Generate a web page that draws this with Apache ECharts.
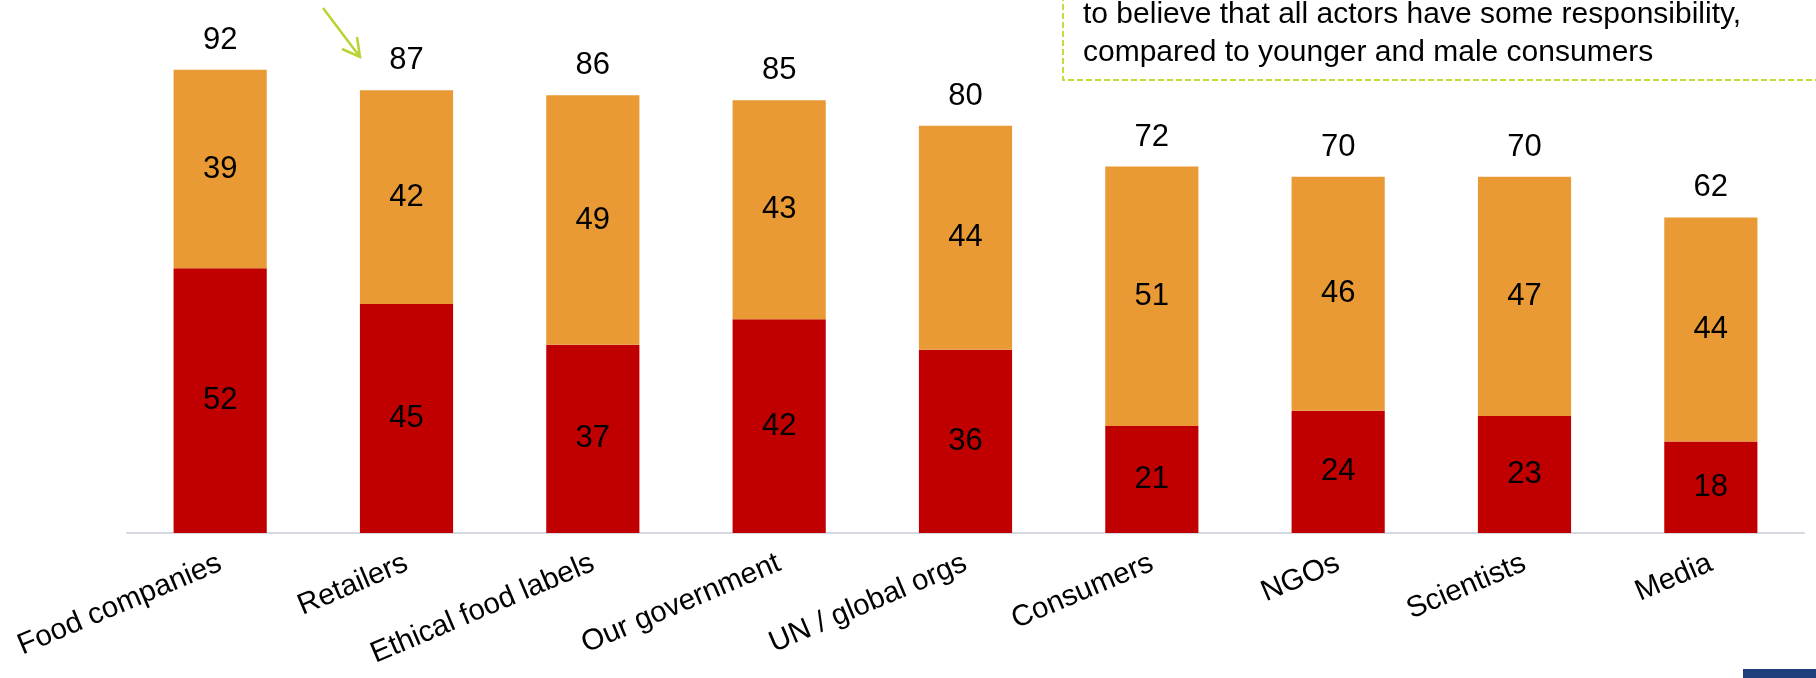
<!DOCTYPE html>
<html>
<head>
<meta charset="utf-8">
<script src="https://cdn.jsdelivr.net/npm/echarts@6/dist/echarts.min.js"></script>
<style>
html,body{margin:0;padding:0;background:#fff;}
#chart{width:1816px;height:678px;}
</style>
</head>
<body>
<div id="chart"></div>
<script>
const categories = ['Food companies', 'Retailers', 'Ethical food labels', 'Our government', 'UN / global orgs', 'Consumers', 'NGOs', 'Scientists', 'Media']
const bottomValues = [52, 45, 37, 42, 36, 21, 24, 23, 18]
const topValues = [39, 42, 49, 43, 44, 51, 46, 47, 44]
const totals = [92, 87, 86, 85, 80, 72, 70, 70, 62]

const font = 'Arial, "Liberation Sans", sans-serif'
const mychart = echarts.init(document.getElementById('chart'))

const segLabel = {
  show: true,
  position: 'inside',
  color: '#000',
  fontSize: 31,
  fontFamily: font
}

const option = {
  animation: false,
  grid: { top: 24, left: 127, right: 12, bottom: 145 },
  xAxis: {
    type: 'category',
    data: categories,
    axisLine: { lineStyle: { color: '#d6d9e1', width: 2 } },
    axisTick: { length: 10, lineStyle: { color: '#d6d9e1', width: 2 } },
    axisLabel: {
      rotate: 23,
      margin: 29,
      color: '#000',
      fontSize: 29.5,
      fontFamily: font,
      interval: 0
    }
  },
  yAxis: {
    type: 'value',
    min: 0,
    max: 100,
    show: false
  },
  series: [{
    type: 'bar',
    stack: 'a',
    barWidth: '50%',
    data: bottomValues,
    itemStyle: { color: '#c00000' },
    label: segLabel
  }, {
    type: 'bar',
    stack: 'a',
    data: topValues,
    itemStyle: { color: '#e99a35' },
    label: segLabel
  }, {
    // total labels sit on an empty bar at the top of each stack
    type: 'bar',
    stack: 'a',
    data: totals.map(() => 0),
    itemStyle: { color: 'transparent' },
    label: {
      show: true,
      position: 'top',
      distance: 14,
      color: '#000',
      fontSize: 31,
      fontFamily: font,
      formatter: p => totals[p.dataIndex]
    }
  }],
  graphic: [
    // callout box (only its lower part is visible)
    {
      type: 'polyline',
      shape: { points: [[1063, -5], [1063, 80], [1830, 80]] },
      style: { fill: null, stroke: '#c6da3a', lineWidth: 2, lineDash: [6, 3] }
    },
    {
      type: 'text', left: 1083, top: 0,
      style: {
        text: 'to believe that all actors have some responsibility,',
        font: '30px ' + font, fill: '#000'
      }
    },
    {
      type: 'text', left: 1083, top: 38,
      style: {
        text: 'compared to younger and male consumers',
        font: '30px ' + font, fill: '#000'
      }
    },
    // green arrow pointing at Retailers
    {
      type: 'polyline',
      shape: { points: [[323, 8], [360, 57]] },
      style: { fill: null, stroke: '#b8d432', lineWidth: 2.5 }
    },
    {
      type: 'polyline',
      shape: { points: [[342, 49], [360, 57], [357, 37]] },
      style: { fill: null, stroke: '#b8d432', lineWidth: 2.5 }
    },
    {
      type: 'rect',
      shape: { x: 1743, y: 669, width: 73, height: 9 },
      style: { fill: '#1f3e7c' }
    }
  ]
}
mychart.setOption(option, true)
</script>
</body>
</html>
